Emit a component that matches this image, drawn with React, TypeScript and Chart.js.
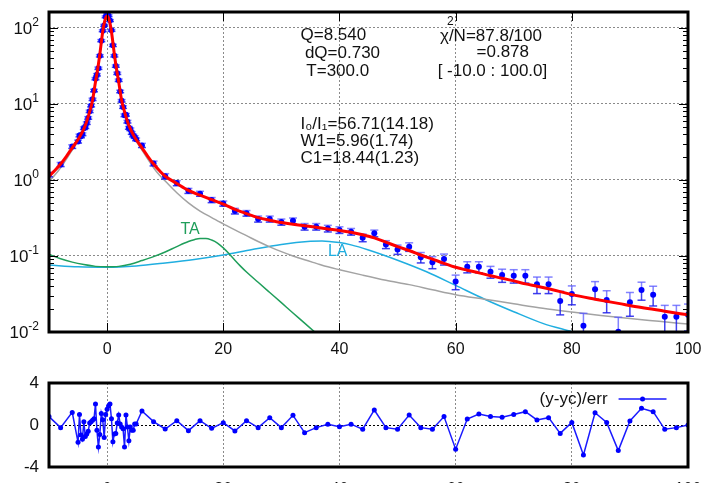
import React, { useEffect, useRef } from 'react';
import { Chart, registerables } from 'chart.js';

Chart.register(...registerables);

const FONT = '"Liberation Sans", Arial, Helvetica, sans-serif';

// ---------------- measured data points ----------------
const leftX = [-10, -8, -6];
const leftY = [1.18, 1.6, 2.75];
const leftErr = [0.08, 0.1, 0.15];
const leftRes = [0.8, -0.25, 1.2];

const denseX = [-5, -4.75, -4.5, -4.25, -4, -3.75, -3.5, -3.25, -3, -2.75, -2.5, -2.25, -2, -1.75, -1.5, -1.25, -1, -0.75, -0.5, -0.25, 0, 0.25, 0.5, 0.75, 1, 1.25, 1.5, 1.75, 2, 2.25, 2.5, 2.75, 3, 3.25, 3.5, 3.75, 4, 4.25, 4.5, 4.75, 5];
const denseY = [3.2, 3.85, 3.75, 4.0, 4.8, 4.95, 5.6, 6.55, 8.0, 9.5, 11.5, 15.0, 21.5, 24.2, 29.5, 43, 68, 92, 108, 140, 150, 145, 125, 93, 59, 43, 31.5, 25.3, 20.5, 14.6, 11.0, 9.1, 7.1, 7.2, 5.85, 4.85, 4.65, 4.15, 3.85, 3.67, 3.42];
const denseErr = [0.14, 0.16, 0.16, 0.17, 0.19, 0.2, 0.22, 0.25, 0.3, 0.35, 0.42, 0.55, 0.75, 0.85, 1.05, 1.5, 2.2, 2.8, 3.2, 4.0, 4.3, 4.2, 3.6, 2.8, 2.0, 1.5, 1.1, 0.9, 0.75, 0.55, 0.42, 0.35, 0.3, 0.28, 0.24, 0.2, 0.19, 0.17, 0.16, 0.15, 0.14];
const denseRes = [-1.65, 1.0, -0.95, -1.35, 0.3, -1.1, -0.85, -0.6, 0.2, 0.3, 0.45, 0.6, 2.0, -0.5, -2.1, -0.9, 1.1, 0.5, -1.2, 1.0, 1.5, 1.8, 2.0, 0.6, -1.6, -0.85, -0.8, 0.2, 0.95, 0.1, -0.2, -0.35, -2.1, 0.95, -0.2, -1.5, -0.2, -0.5, -0.5, 0.1, 0.1];

const tailX = [6, 8, 10, 12, 14, 16, 18, 20, 22, 24, 26, 28, 30, 32, 34, 36, 38, 40, 42, 44, 46, 48, 50, 52, 54, 56, 58, 60, 62, 64, 66, 68, 70, 72, 74, 76, 78, 80, 82, 84, 86, 88, 90, 92, 94, 96, 98, 100];
const tailY = [2.85, 1.65, 1.12, 0.91, 0.72, 0.66, 0.545, 0.49, 0.39, 0.365, 0.307, 0.307, 0.28, 0.29, 0.243, 0.243, 0.23, 0.22, 0.209, 0.174, 0.199, 0.142, 0.122, 0.132, 0.096, 0.083, 0.091, 0.046, 0.072, 0.072, 0.062, 0.056, 0.055, 0.055, 0.0424, 0.0424, 0.0256, 0.0316, 0.0121, 0.0365, 0.0264, 0.0101, 0.0246, 0.0357, 0.031, 0.0159, 0.0159, 0.0168];
const tailErr = [0.18, 0.12, 0.09, 0.07, 0.055, 0.05, 0.042, 0.038, 0.033, 0.031, 0.028, 0.028, 0.026, 0.026, 0.024, 0.024, 0.023, 0.022, 0.021, 0.02, 0.02, 0.017, 0.017, 0.017, 0.015, 0.015, 0.015, 0.01, 0.012, 0.012, 0.011, 0.011, 0.011, 0.011, 0.0104, 0.0104, 0.0088, 0.0088, 0.0055, 0.0095, 0.0085, 0.0055, 0.0085, 0.0095, 0.009, 0.0065, 0.0065, 0.0065];
const tailRes = [1.33, 0.32, -0.38, 0.41, -0.54, 0.41, -0.32, 0.22, -0.57, 0.41, -0.25, 0.7, -0.25, 0.92, -0.73, -0.25, 0.06, -0.16, 0.08, -0.4, 1.43, -0.25, -0.4, 0.95, -0.25, -0.4, 0.8, -2.3, 0.57, 1.05, 0.8, 0.73, 1.0, 1.27, 0.48, 0.7, -0.8, 0.25, -2.86, 1.17, 0.25, -2.44, 0.38, 1.59, 1.27, -0.41, -0.25, 0.0];

const dataX = [...leftX, ...denseX, ...tailX];
const dataY = [...leftY, ...denseY, ...tailY];
const dataErr = [...leftErr, ...denseErr, ...tailErr];
const dataRes = [...leftRes, ...denseRes, ...tailRes];

// ---------------- model curves ----------------
const fitX = [-10, -9, -8, -7, -6, -5, -4.5, -4, -3.5, -3, -2.5, -2, -1.75, -1.5, -1.25, -1, -0.75, -0.5, -0.25, 0, 0.25, 0.5, 0.75, 1, 1.25, 1.5, 1.75, 2, 2.5, 3, 3.5, 4, 4.5, 5, 6, 7, 8, 9, 10, 12, 14, 16, 18, 20, 22, 24, 26, 28, 30, 32, 34, 36, 38, 40, 42, 44, 46, 48, 50, 52, 54, 56, 58, 60, 62, 64, 66, 68, 70, 72, 74, 76, 78, 80, 84, 88, 92, 96, 100];
const fitY = [1.12, 1.33, 1.62, 2.05, 2.65, 3.4, 3.95, 4.7, 5.9, 7.9, 11.2, 19.5, 25, 33, 45, 64, 90, 115, 135, 143, 135, 115, 90, 64, 45, 33, 25, 19.5, 11.2, 7.9, 5.9, 4.7, 3.95, 3.4, 2.65, 2.05, 1.62, 1.33, 1.12, 0.9, 0.73, 0.63, 0.55, 0.48, 0.41, 0.36, 0.32, 0.295, 0.275, 0.262, 0.25, 0.238, 0.227, 0.217, 0.205, 0.19, 0.173, 0.152, 0.133, 0.118, 0.103, 0.091, 0.08, 0.071, 0.065, 0.06, 0.055, 0.051, 0.047, 0.043, 0.04, 0.037, 0.034, 0.031, 0.027, 0.0238, 0.021, 0.0188, 0.0168];

const qeX = [-10, -9, -8, -7, -6, -5, -4.5, -4, -3.5, -3, -2.5, -2, -1.75, -1.5, -1.25, -1, -0.75, -0.5, -0.25, 0, 0.25, 0.5, 0.75, 1, 1.25, 1.5, 1.75, 2, 2.5, 3, 3.5, 4, 4.5, 5, 6, 7, 8, 9, 10, 12, 14, 16, 18, 20, 22, 24, 26, 28, 30, 32, 34, 36, 38, 40, 44, 48, 52, 56, 60, 65, 70, 75, 80, 85, 90, 95, 100];
const qeY = [0.95, 1.16, 1.45, 1.88, 2.48, 3.25, 3.8, 4.55, 5.75, 7.75, 11.05, 19.35, 24.85, 32.85, 44.85, 63.85, 89.85, 114.85, 134.85, 142.85, 134.85, 114.85, 89.85, 63.85, 44.85, 32.85, 24.85, 19.35, 11.05, 7.75, 5.75, 4.55, 3.8, 3.25, 2.48, 1.88, 1.45, 1.16, 0.97, 0.68, 0.5, 0.39, 0.32, 0.265, 0.22, 0.185, 0.155, 0.132, 0.114, 0.1, 0.089, 0.08, 0.072, 0.066, 0.056, 0.048, 0.042, 0.036, 0.031, 0.027, 0.0235, 0.0205, 0.0183, 0.0165, 0.015, 0.0138, 0.0127];

const taX = [-10, -8, -6, -4, -2, 0, 2, 4, 6, 8, 10, 12, 14, 15, 16, 17, 18, 19, 20, 21, 22, 23, 24, 26, 28, 30, 32, 34, 36, 38];
const taY = [0.105, 0.092, 0.083, 0.077, 0.073, 0.072, 0.073, 0.078, 0.087, 0.098, 0.113, 0.133, 0.155, 0.164, 0.17, 0.17, 0.162, 0.148, 0.128, 0.107, 0.088, 0.073, 0.0615, 0.0451, 0.0331, 0.0243, 0.0178, 0.0131, 0.0096, 0.007];

const laX = [-10, -5, 0, 5, 10, 15, 20, 25, 30, 35, 37, 40, 42, 45, 50, 55, 60, 65, 70, 75, 80, 84];
const laY = [0.076, 0.072, 0.071, 0.074, 0.081, 0.09, 0.103, 0.122, 0.142, 0.156, 0.158, 0.15, 0.14, 0.12, 0.088, 0.062, 0.041, 0.027, 0.0185, 0.013, 0.0101, 0.0082];

// ---------------- axes ----------------
const xTicks = [0, 20, 40, 60, 80, 100];
const xTickLabels = ['0', '20', '40', '60', '80', '100'];
const yTicks = [0.01, 0.1, 1, 10, 100];
const yTickBase = ['10', '10', '10', '10', '10'];
const yTickExp = ['-2', '-1', '0', '1', '2'];
const resTicks = [-4, 0, 4];
const resTickLabels = ['-4', '0', '4'];

// ---------------- texts ----------------
const infoTexts = [
  { text: 'Q=8.540', x: 33.3, y: 79.6, size: 17, color: '#111', align: 'left' },
  { text: 'dQ=0.730', x: 34.05, y: 46.9, size: 17, color: '#111', align: 'left' },
  { text: 'T=300.0', x: 34.3, y: 27.2, size: 17, color: '#111', align: 'left' },
  { text: 'χ/N=87.8/100', x: 57.3, y: 78.4, size: 17, color: '#111', align: 'left' },
  { text: '2', x: 58.5, y: 121.8, size: 12, color: '#111', align: 'left' },
  { text: '=0.878', x: 63.6, y: 47.6, size: 17, color: '#111', align: 'left' },
  { text: '[ -10.0 : 100.0]', x: 56.9, y: 26.8, size: 17, color: '#111', align: 'left' },
  { text: 'I₀/I₁=56.71(14.18)', x: 33.3, y: 5.46, size: 17, color: '#111', align: 'left' },
  { text: 'W1=5.96(1.74)', x: 33.3, y: 3.26, size: 17, color: '#111', align: 'left' },
  { text: 'C1=18.44(1.23)', x: 33.3, y: 1.95, size: 17, color: '#111', align: 'left' },
  { text: 'TA', x: 14.3, y: 0.22, size: 16, color: '#1f9e5a', align: 'center' },
  { text: 'LA', x: 39.7, y: 0.1146, size: 16, color: '#20aee0', align: 'center' },
];
const resLegend = { text: '(y-yc)/err', textX: 86.15, lineX0: 88.05, lineX1: 96.3, y: 2.48 };

const pts = (xs: number[], ys: number[]) => xs.map((x, i) => ({ x, y: ys[i] }));

const fixAxis = (w: number | null, h: number | null) => (s: any) => {
  if (w !== null) s.width = w;
  if (h !== null) s.height = h;
  s.paddingTop = 0; s.paddingBottom = 0; s.paddingLeft = 0; s.paddingRight = 0;
};

const framePlugin = (logY: boolean) => ({
  id: 'frame' + (logY ? 'Log' : 'Lin'),
  afterDraw(chart: any) {
    const { ctx, chartArea: a, scales } = chart;
    ctx.save();
    ctx.strokeStyle = '#000';
    ctx.lineWidth = 1;
    const seg = (x0: number, y0: number, x1: number, y1: number) => {
      ctx.beginPath(); ctx.moveTo(x0, y0); ctx.lineTo(x1, y1); ctx.stroke();
    };
    if (logY) {
      const ys = scales.y;
      for (let e = -2; e <= 2; e++) {
        for (let m = 1; m <= 9; m++) {
          const v = m * Math.pow(10, e);
          if (v < ys.min || v > ys.max) continue;
          const p = Math.round(ys.getPixelForValue(v)) + 0.5;
          const len = m === 1 ? 9 : 5;
          seg(a.left, p, a.left + len, p);
          seg(a.right, p, a.right - len, p);
        }
      }
      const xs = scales.x;
      for (const v of xTicks) {
        const p = Math.round(xs.getPixelForValue(v)) + 0.5;
        seg(p, a.bottom, p, a.bottom - 9);
        seg(p, a.top, p, a.top + 9);
      }
      // y tick labels: base with raised exponent
      ctx.fillStyle = '#111';
      ctx.textAlign = 'right';
      ctx.textBaseline = 'middle';
      const right = a.left - 10;
      yTicks.forEach((v, i) => {
        const p = ys.getPixelForValue(v);
        ctx.font = `12px ${FONT}`;
        const ew = ctx.measureText(yTickExp[i]).width;
        ctx.fillText(yTickExp[i], right, p - 5);
        ctx.font = `17px ${FONT}`;
        ctx.fillText(yTickBase[i], right - ew, p + 1);
      });
    }
    ctx.lineWidth = 3;
    ctx.strokeRect(a.left, a.top, a.right - a.left, a.bottom - a.top);
    ctx.restore();
  },
});

const errorBarPlugin = {
  id: 'errorBars',
  beforeDatasetDraw(chart: any, args: any) {
    if (chart.data.datasets[args.index].label !== 'data') return;
    const { ctx, chartArea: a, scales } = chart;
    const xs = scales.x, ys = scales.y;
    ctx.save();
    ctx.beginPath();
    ctx.rect(a.left, a.top, a.right - a.left, a.bottom - a.top);
    ctx.clip();
    ctx.lineWidth = 1.5;
    for (let i = 0; i < dataX.length; i++) {
      const px = xs.getPixelForValue(dataX[i]);
      const lo = Math.max(dataY[i] - dataErr[i], 1e-4);
      const pHi = ys.getPixelForValue(dataY[i] + dataErr[i]);
      const pMid = ys.getPixelForValue(dataY[i]);
      const pLo = ys.getPixelForValue(lo);
      ctx.strokeStyle = 'rgba(90,90,255,0.75)';
      ctx.beginPath(); ctx.moveTo(px, pHi); ctx.lineTo(px, pMid); ctx.stroke();
      ctx.beginPath(); ctx.moveTo(px - 4, pHi); ctx.lineTo(px + 4, pHi); ctx.stroke();
      ctx.strokeStyle = 'rgba(30,30,235,0.85)';
      ctx.beginPath(); ctx.moveTo(px, pMid); ctx.lineTo(px, pLo); ctx.stroke();
      ctx.beginPath(); ctx.moveTo(px - 4, pLo); ctx.lineTo(px + 4, pLo); ctx.stroke();
    }
    ctx.restore();
  },
};

const textPlugin = {
  id: 'infoText',
  afterDraw(chart: any) {
    const { ctx, scales } = chart;
    ctx.save();
    ctx.textBaseline = 'middle';
    for (const t of infoTexts) {
      ctx.font = `${t.size}px ${FONT}`;
      ctx.fillStyle = t.color;
      ctx.textAlign = t.align as CanvasTextAlign;
      ctx.fillText(t.text, scales.x.getPixelForValue(t.x), scales.y.getPixelForValue(t.y));
    }
    ctx.restore();
  },
};

const legendPlugin = {
  id: 'resLegend',
  afterDraw(chart: any) {
    const { ctx, scales } = chart;
    const y = scales.y.getPixelForValue(resLegend.y);
    ctx.save();
    ctx.font = `17px ${FONT}`;
    ctx.fillStyle = '#111';
    ctx.textAlign = 'right';
    ctx.textBaseline = 'middle';
    ctx.fillText(resLegend.text, scales.x.getPixelForValue(resLegend.textX), y);
    const x0 = scales.x.getPixelForValue(resLegend.lineX0);
    const x1 = scales.x.getPixelForValue(resLegend.lineX1);
    ctx.strokeStyle = '#1a1aff';
    ctx.lineWidth = 1.5;
    ctx.beginPath(); ctx.moveTo(x0, y); ctx.lineTo(x1, y); ctx.stroke();
    ctx.fillStyle = '#0000ff';
    ctx.beginPath(); ctx.arc((x0 + x1) / 2, y, 2.5, 0, Math.PI * 2); ctx.fill();
    ctx.restore();
  },
};

const tickFont = { family: FONT, size: 16 };

function topConfig(): any {
  return {
    type: 'line',
    data: {
      datasets: [
        { label: 'fit', data: pts(fitX, fitY), borderColor: '#ff0000', borderWidth: 3, pointRadius: 0, cubicInterpolationMode: 'monotone', order: 0 },
        { label: 'data', data: pts(dataX, dataY), showLine: false, pointRadius: 3, pointBackgroundColor: '#0000ff', pointBorderColor: '#0000ff', pointBorderWidth: 0, order: 1, clip: 0 },
        { label: 'qe', data: pts(qeX, qeY), borderColor: '#a3a3a3', borderWidth: 1.5, pointRadius: 0, cubicInterpolationMode: 'monotone', order: 2 },
        { label: 'TA', data: pts(taX, taY), borderColor: '#1f9e5a', borderWidth: 1.5, pointRadius: 0, cubicInterpolationMode: 'monotone', order: 3 },
        { label: 'LA', data: pts(laX, laY), borderColor: '#20aee0', borderWidth: 1.5, pointRadius: 0, cubicInterpolationMode: 'monotone', order: 4 },
      ],
    },
    options: {
      animation: false,
      responsive: false,
      maintainAspectRatio: false,
      events: [],
      layout: { padding: { top: 12, right: 15, left: 0, bottom: 0 } },
      plugins: { legend: { display: false }, tooltip: { enabled: false } },
      scales: {
        x: {
          type: 'linear', min: -10, max: 100,
          afterBuildTicks: (s: any) => { s.ticks = xTicks.map((v) => ({ value: v })); },
          afterFit: fixAxis(null, 33),
          grid: { color: '#8a8a8a', lineWidth: 1, drawTicks: false },
          border: { display: false, dash: [2, 2] },
          ticks: { padding: 8, font: tickFont, color: '#111', maxRotation: 0, autoSkip: false, callback: (_v: any, i: number) => xTickLabels[i] },
        },
        y: {
          type: 'logarithmic', min: 0.01, max: 162,
          afterBuildTicks: (s: any) => { s.ticks = yTicks.map((v) => ({ value: v })); },
          afterFit: fixAxis(49, null),
          grid: { color: '#8a8a8a', lineWidth: 1, drawTicks: false },
          border: { display: false, dash: [2, 2] },
          ticks: { display: false, autoSkip: false },
        },
      },
    },
    plugins: [errorBarPlugin, framePlugin(true), textPlugin],
  };
}

function botConfig(): any {
  return {
    type: 'line',
    data: {
      datasets: [
        { label: '(y-yc)/err', data: pts(dataX, dataRes), borderColor: '#1a1aff', borderWidth: 1.5, pointRadius: 2.5, pointBackgroundColor: '#0000ff', pointBorderColor: '#0000ff', pointBorderWidth: 0, tension: 0 },
      ],
    },
    options: {
      animation: false,
      responsive: false,
      maintainAspectRatio: false,
      events: [],
      layout: { padding: { top: 18, right: 15, left: 0, bottom: 0 } },
      plugins: { legend: { display: false }, tooltip: { enabled: false } },
      scales: {
        x: {
          type: 'linear', min: -10, max: 100,
          afterBuildTicks: (s: any) => { s.ticks = xTicks.map((v) => ({ value: v })); },
          afterFit: fixAxis(null, 38),
          grid: { color: '#8a8a8a', lineWidth: 1, drawTicks: false },
          border: { display: false, dash: [2, 2] },
          ticks: { padding: 13, font: tickFont, color: '#111', maxRotation: 0, autoSkip: false, callback: (_v: any, i: number) => xTickLabels[i] },
        },
        y: {
          type: 'linear', min: -4, max: 4,
          afterBuildTicks: (s: any) => { s.ticks = resTicks.map((v) => ({ value: v })); },
          afterFit: fixAxis(49, null),
          grid: { color: (c: any) => (c.tick && c.tick.value === 0 ? '#000' : 'rgba(0,0,0,0)'), lineWidth: 1, drawTicks: false },
          border: { display: false, dash: [2, 2] },
          ticks: { padding: 10, font: { family: FONT, size: 17 }, color: '#111', autoSkip: false, callback: (_v: any, i: number) => resTickLabels[i] },
        },
      },
    },
    plugins: [framePlugin(false), legendPlugin],
  };
}

export default function App() {
  const topRef = useRef<HTMLCanvasElement>(null);
  const botRef = useRef<HTMLCanvasElement>(null);
  useEffect(() => {
    const c1 = new Chart(topRef.current as HTMLCanvasElement, topConfig());
    const c2 = new Chart(botRef.current as HTMLCanvasElement, botConfig());
    return () => {
      c1.destroy();
      c2.destroy();
    };
  }, []);
  return (
    <div style={{ position: 'fixed', left: 0, top: 0, width: 703, height: 483, overflow: 'hidden', background: '#fff' }}>
      <canvas ref={topRef} width={703} height={365} style={{ position: 'absolute', left: 0, top: 0, width: 703, height: 365 }} />
      <canvas ref={botRef} width={703} height={140} style={{ position: 'absolute', left: 0, top: 365, width: 703, height: 140 }} />
    </div>
  );
}
